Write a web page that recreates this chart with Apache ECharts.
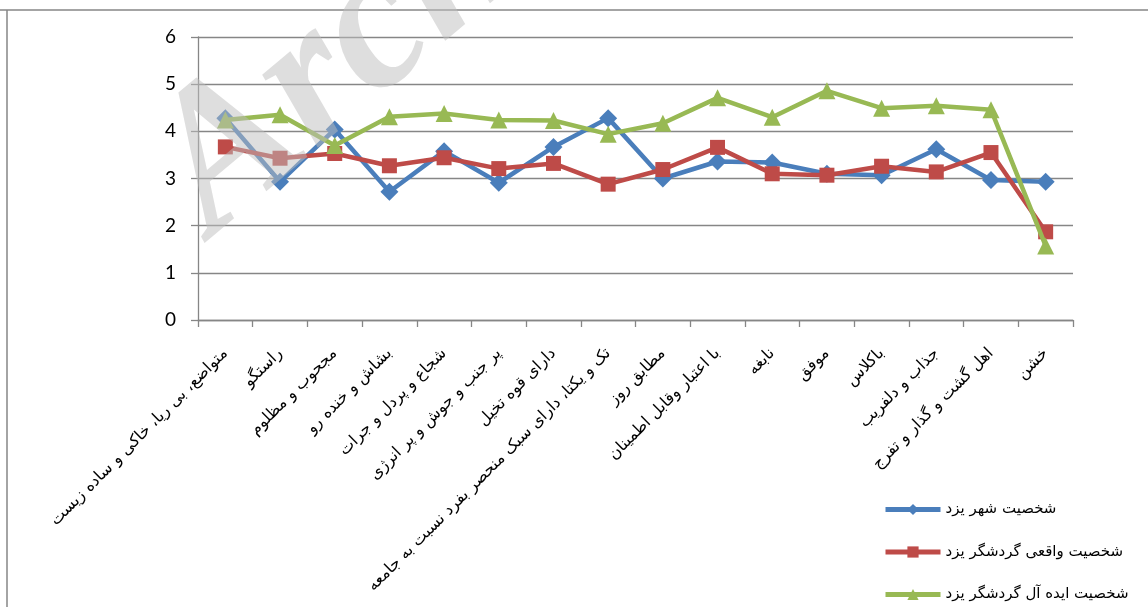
<!DOCTYPE html>
<html>
<head>
<meta charset="utf-8">
<script src="https://cdn.jsdelivr.net/npm/echarts@6/dist/echarts.min.js"></script>
<style>
html,body{margin:0;padding:0;background:#fff;}
#c{width:1148px;height:607px;}
</style>
</head>
<body>
<div id="c"></div>
<script>
var categories = [
  'متواضع، بی ریا، خاکی و ساده زیست',
  'راستگو',
  'مجحوب و مظلوم',
  'بشاش و خنده رو',
  'شجاع و پردل و جرات',
  'پر جنب و جوش و پر انرژی',
  'دارای قوه تخیل',
  'تک و یکتا، دارای سبک منحصر بفرد نسبت به جامعه',
  'مطابق روز',
  'با اعتبار وقابل اطمینان',
  'نابغه',
  'موفق',
  'باکلاس',
  'جذاب و دلفریب',
  'اهل گشت و گذار و تفرج',
  'خشن'
];
var seriesNames = ['شخصیت شهر یزد', 'شخصیت واقعی گردشگر یزد', 'شخصیت ایده آل گردشگر یزد'];
var cityValues = [4.28, 2.93, 4.04, 2.72, 3.58, 2.91, 3.67, 4.28, 3.00, 3.36, 3.34, 3.10, 3.07, 3.62, 2.97, 2.93];
var realValues = [3.67, 3.43, 3.53, 3.27, 3.44, 3.21, 3.32, 2.88, 3.19, 3.66, 3.10, 3.07, 3.26, 3.14, 3.55, 1.87];
var idealValues = [4.24, 4.35, 3.70, 4.31, 4.38, 4.24, 4.23, 3.94, 4.17, 4.71, 4.30, 4.86, 4.49, 4.54, 4.46, 1.57];
var yTicks = [0, 1, 2, 3, 4, 5, 6];

var gray = '#868686';
var arFont = "'DejaVu Sans', sans-serif";
var chart = echarts.init(document.getElementById('c'));
chart.setOption({
  animation: false,
  backgroundColor: '#fff',
  grid: { left: 198, top: 37, right: 75, bottom: 287, containLabel: false },
  legend: {
    orient: 'vertical',
    left: 883,
    top: 502,
    padding: 0,
    itemWidth: 55,
    itemHeight: 14,
    itemGap: 27.5,
    lineStyle: { width: 5 },
    textStyle: { color: '#000', fontSize: 15, lineHeight: 14, fontFamily: arFont },
    data: seriesNames
  },
  xAxis: {
    type: 'category',
    data: categories,
    boundaryGap: true,
    axisLine: { lineStyle: { color: gray, width: 1.3 } },
    axisTick: { show: true, length: 7, lineStyle: { color: gray, width: 1.3 } },
    axisLabel: {
      interval: 0,
      rotate: 45,
      margin: 31,
      color: '#000',
      fontSize: 16,
      fontFamily: arFont
    }
  },
  yAxis: {
    type: 'value',
    min: yTicks[0],
    max: yTicks[yTicks.length - 1],
    interval: 1,
    axisLine: { show: true, lineStyle: { color: gray, width: 1.3 } },
    axisTick: { show: true, length: 7, lineStyle: { color: gray, width: 1.3 } },
    splitLine: { lineStyle: { color: gray, width: 1.3 } },
    axisLabel: { margin: 22, color: '#000', fontSize: 19, fontFamily: "Lato, 'Open Sans', sans-serif" }
  },
  series: [
    {
      name: seriesNames[0], type: 'line', data: cityValues, z: 2,
      symbol: 'diamond', symbolSize: 18,
      lineStyle: { color: '#4A7EBB', width: 4.5 },
      itemStyle: { color: '#4A7EBB' }
    },
    {
      name: seriesNames[1], type: 'line', data: realValues, z: 3,
      symbol: 'rect', symbolSize: 15,
      lineStyle: { color: '#BE4B48', width: 4.5 },
      itemStyle: { color: '#BE4B48' }
    },
    {
      name: seriesNames[2], type: 'line', data: idealValues, z: 4,
      symbol: 'triangle', symbolSize: 17,
      lineStyle: { color: '#98B954', width: 4.5 },
      itemStyle: { color: '#98B954' }
    }
  ],
  graphic: [
    { type: 'line', shape: { x1: 0, y1: 10, x2: 1148, y2: 10 }, style: { stroke: gray, lineWidth: 1.5 }, z: 1 },
    { type: 'line', shape: { x1: 7, y1: 10, x2: 7, y2: 607 }, style: { stroke: gray, lineWidth: 1.5 }, z: 1 },
    {
      type: 'text', x: 115, y: 120, rotation: 40 * Math.PI / 180, z: 100, silent: true,
      style: {
        text: 'Archive of SID',
        font: "italic bold 200px 'Liberation Serif', serif",
        fill: 'rgba(190,190,190,0.5)'
      }
    }
  ]
});
</script>
</body>
</html>
